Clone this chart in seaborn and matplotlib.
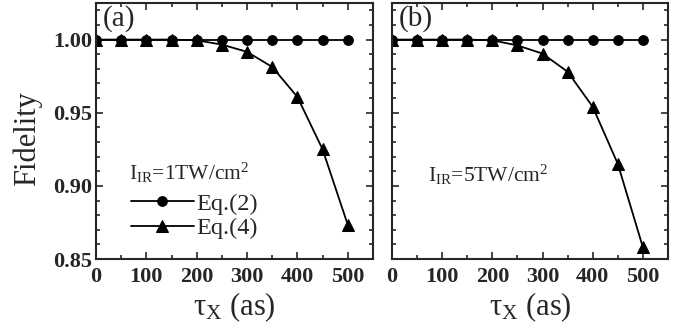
import numpy as np
import pandas as pd
import matplotlib
matplotlib.use('Agg')
import matplotlib.pyplot as plt
import seaborn as sns
from matplotlib.ticker import MultipleLocator, FormatStrFormatter

# data
tau = [0, 50, 100, 150, 200, 250, 300, 350, 400, 450, 500]
eq2_a = [1.0] * 11
eq4_a = [1.0, 1.0, 1.0, 1.0, 0.9995, 0.9966, 0.9916, 0.9813, 0.9608, 0.925, 0.8735]
eq2_b = [1.0] * 11
eq4_b = [1.0, 1.0, 1.0, 1.0, 0.9995, 0.996, 0.9904, 0.978, 0.954, 0.915, 0.858]
panel_labels = ['(a)', '(b)']
intensity_labels = [r'$\mathrm{I_{IR}}$=1TW/cm$^2$', r'$\mathrm{I_{IR}}$=5TW/cm$^2$']

sns.set_style('ticks')
plt.rcParams['font.family'] = ['Liberation Serif', 'DejaVu Serif']
plt.rcParams['mathtext.fontset'] = 'custom'
plt.rcParams['mathtext.rm'] = 'Liberation Serif'
plt.rcParams['mathtext.it'] = 'Liberation Serif:italic'

fig = plt.figure(figsize=(6.82, 3.33), dpi=100)
ax_a = fig.add_axes([0.1408, 0.222, 0.406, 0.769])
ax_b = fig.add_axes([0.5748, 0.222, 0.4047, 0.769])

panels = [(ax_a, eq2_a, eq4_a), (ax_b, eq2_b, eq4_b)]
for i, (ax, e2, e4) in enumerate(panels):
    sns.lineplot(x=tau, y=e2, ax=ax, color='black', marker='o', markersize=7,
                 linewidth=1.3, markeredgecolor='black', label='Eq.(2)')
    sns.lineplot(x=tau, y=e4, ax=ax, color='black', marker='^', markersize=8,
                 linewidth=1.3, markeredgecolor='black', label='Eq.(4)')
    ax.set_xlim(0, 550)
    ax.set_ylim(0.85, 1.025)
    ax.xaxis.set_major_locator(MultipleLocator(100))
    ax.xaxis.set_minor_locator(MultipleLocator(50))
    ax.yaxis.set_major_locator(MultipleLocator(0.05))
    ax.yaxis.set_minor_locator(MultipleLocator(0.01))
    ax.tick_params(which='both', direction='in', top=True, right=True, width=1.2)
    ax.tick_params(which='major', length=5, labelsize=16)
    ax.tick_params(axis='x', which='major', pad=6)
    ax.tick_params(axis='y', which='major', pad=3)
    ax.tick_params(which='minor', length=3)
    for lab in ax.get_xticklabels() + ax.get_yticklabels():
        lab.set_fontweight('bold')
    for sp in ax.spines.values():
        sp.set_linewidth(1.5)
    ax.set_xlabel(r'$\mathrm{\tau_X}$ (as)', fontsize=22, labelpad=2)
    ax.text(0.025, 0.99, panel_labels[i], transform=ax.transAxes, fontsize=21,
            va='top', ha='left')
    if i == 0:
        ax.set_ylabel('Fidelity', fontsize=22, labelpad=2)
        ax.yaxis.set_label_coords(-0.195, 0.47)
        ax.yaxis.set_major_formatter(FormatStrFormatter('%.2f'))
        ax.text(0.12, 0.31, intensity_labels[i], transform=ax.transAxes,
                fontsize=15.5, va='baseline')
        ax.legend(loc='lower left', bbox_to_anchor=(0.09, 0.04), frameon=False,
                  fontsize=17.5, handlelength=2.6, handletextpad=0.1,
                  labelspacing=0.1, borderaxespad=0)
    else:
        ax.set_ylabel('')
        ax.set_yticklabels([])
        ax.legend().remove()
        ax.text(0.13, 0.30, intensity_labels[i], transform=ax.transAxes,
                fontsize=15.5, va='baseline')

fig.savefig('out.png', dpi=100)
